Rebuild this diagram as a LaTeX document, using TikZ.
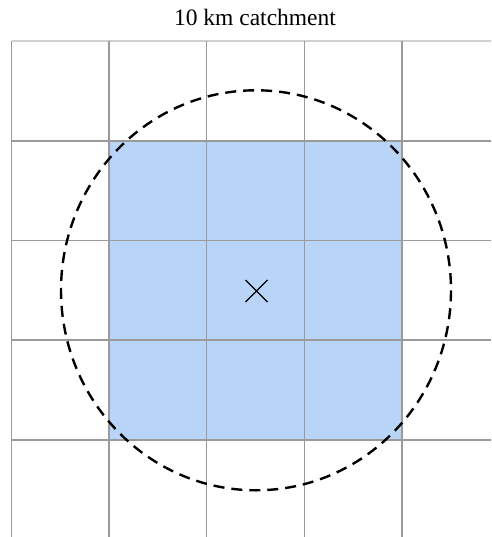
\documentclass[tikz,border=0pt]{standalone}
\usepackage{fontspec}
\setmainfont{Liberation Serif}
\definecolor{cellblue}{HTML}{B8D5F8}
\definecolor{gridgray}{HTML}{9A9A9A}
\definecolor{edgegray}{HTML}{D0D0D0}
\tikzset{
  gridline/.style={draw=gridgray, line width=1.4pt},
  topline/.style={draw=edgegray, line width=1.4pt},
  catchment/.style={draw=black, line width=2.4pt, dash pattern=on 11pt off 7pt},
  centremark/.style={draw=black, line width=1.3pt},
  titletext/.style={font=\fontsize{23.5}{28}\selectfont, inner sep=0pt}
}
\begin{document}
\begin{tikzpicture}[x=1pt,y=-1pt]
\useasboundingbox (0,0) rectangle (491,537);
% selected cells
\fill[cellblue] (109,141) rectangle (402,440);
% grid
\draw[topline] (11.5,41) -- (491,41);
\foreach \y in {141,240.5,340,440}
  \draw[gridline] (11.5,\y) -- (491,\y);
\foreach \x in {11.5,109,206.5,304.5,402}
  \draw[gridline] (\x,41) -- (\x,537);
% catchment
\draw[catchment] (256,290.3) ellipse [x radius=195, y radius=200];
% centre cross
\draw[centremark] (245.5,280) -- (267.5,302) (245.5,302) -- (267.5,280);
% title
\node[titletext] (title) at (255,17) {10 km catchment};
\end{tikzpicture}
\end{document}
